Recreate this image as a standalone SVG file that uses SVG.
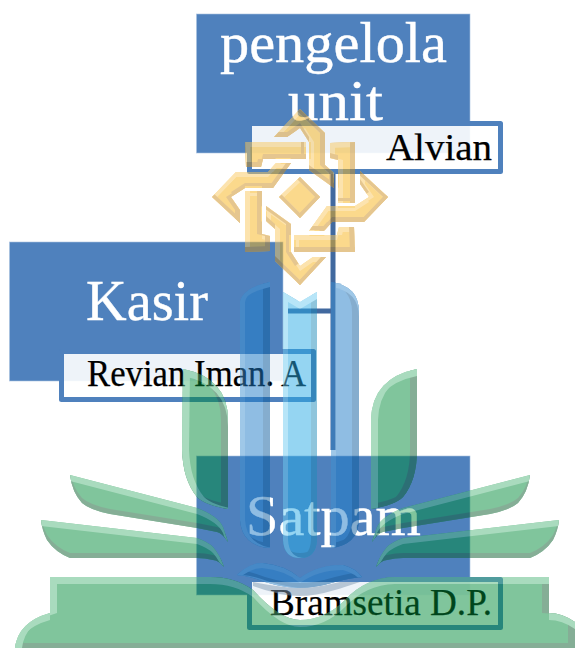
<svg xmlns="http://www.w3.org/2000/svg" xmlns:xlink="http://www.w3.org/1999/xlink" width="575" height="648" viewBox="0 0 575 648">
<style>
.box{fill:#4F81BD;stroke:#A9C1DF;stroke-width:.6}
.sub{fill:#fff;fill-opacity:.9;stroke:#4F81BD;stroke-width:5;stroke-linejoin:round}
.t{font-family:"Liberation Serif",serif;font-size:58px;fill:#fff;stroke:#fff;stroke-width:.4}
.s{font-family:"Liberation Serif",serif;font-size:38.5px;fill:#000;stroke:#000;stroke-width:.25}
.c{fill:none;stroke:#41699F;stroke-width:5}
.g{fill:#008A39;filter:url(#fg)}
.b{fill:#1F7BC7;filter:url(#fb)}
.a{fill:#2BABE5;filter:url(#fa)}
.w{fill:#008A39}
.y{fill:#F7B319}
</style>
<defs>
<filter id="fw" filterUnits="userSpaceOnUse" x="0" y="460" width="575" height="120" color-interpolation-filters="sRGB">
<feOffset in="SourceAlpha" dx="0" dy="6" result="o2"/><feComposite in="SourceAlpha" in2="o2" operator="out" result="r2"/>
<feOffset in="SourceAlpha" dx="0" dy="-5" result="o4"/><feComposite in="SourceAlpha" in2="o4" operator="out" result="r4"/>
<feFlood flood-color="#53B77D"/><feComposite in2="r2" operator="in" result="L"/>
<feFlood flood-color="#0B5D2D"/><feComposite in2="r4" operator="in" result="D"/>
<feMerge><feMergeNode in="SourceGraphic"/><feMergeNode in="D"/><feMergeNode in="L"/></feMerge>
</filter>
<filter id="fg" color-interpolation-filters="sRGB" x="-5%" y="-10%" width="110%" height="120%">
<feOffset in="SourceAlpha" dx="7" dy="0" result="o1"/><feComposite in="SourceAlpha" in2="o1" operator="out" result="r1"/>
<feOffset in="SourceAlpha" dx="0" dy="7" result="o2"/><feComposite in="SourceAlpha" in2="o2" operator="out" result="r2"/>
<feOffset in="SourceAlpha" dx="-7" dy="0" result="o3"/><feComposite in="SourceAlpha" in2="o3" operator="out" result="r3"/>
<feOffset in="SourceAlpha" dx="0" dy="-5" result="o4"/><feComposite in="SourceAlpha" in2="o4" operator="out" result="r4"/>
<feMerge result="rl"><feMergeNode in="r1"/><feMergeNode in="r2"/></feMerge>
<feMerge result="rd"><feMergeNode in="r3"/><feMergeNode in="r4"/></feMerge>
<feFlood flood-color="#53B77D"/><feComposite in2="rl" operator="in" result="L"/>
<feFlood flood-color="#0B5D2D"/><feComposite in2="rd" operator="in" result="D"/>
<feMerge><feMergeNode in="SourceGraphic"/><feMergeNode in="D"/><feMergeNode in="L"/></feMerge>
</filter>
<filter id="fb" color-interpolation-filters="sRGB" x="-10%" y="-5%" width="120%" height="110%">
<feOffset in="SourceAlpha" dx="5" dy="0" result="o1"/><feComposite in="SourceAlpha" in2="o1" operator="out" result="r1"/>
<feOffset in="SourceAlpha" dx="0" dy="5" result="o2"/><feComposite in="SourceAlpha" in2="o2" operator="out" result="r2"/>
<feOffset in="SourceAlpha" dx="-7" dy="0" result="o3"/><feComposite in="SourceAlpha" in2="o3" operator="out" result="r3"/>
<feOffset in="SourceAlpha" dx="0" dy="-5" result="o4"/><feComposite in="SourceAlpha" in2="o4" operator="out" result="r4"/>
<feMerge result="rl"><feMergeNode in="r1"/><feMergeNode in="r2"/></feMerge>
<feMerge result="rd"><feMergeNode in="r3"/><feMergeNode in="r4"/></feMerge>
<feFlood flood-color="#3F90D0"/><feComposite in2="rl" operator="in" result="L"/>
<feFlood flood-color="#0A5A9C"/><feComposite in2="rd" operator="in" result="D"/>
<feMerge><feMergeNode in="SourceGraphic"/><feMergeNode in="D"/><feMergeNode in="L"/></feMerge>
</filter>
<filter id="fa" color-interpolation-filters="sRGB" x="-10%" y="-5%" width="120%" height="110%">
<feOffset in="SourceAlpha" dx="5" dy="0" result="o1"/><feComposite in="SourceAlpha" in2="o1" operator="out" result="r1"/>
<feOffset in="SourceAlpha" dx="0" dy="7" result="o2"/><feComposite in="SourceAlpha" in2="o2" operator="out" result="r2"/>
<feOffset in="SourceAlpha" dx="-6" dy="0" result="o3"/><feComposite in="SourceAlpha" in2="o3" operator="out" result="r3"/>
<feOffset in="SourceAlpha" dx="0" dy="-5" result="o4"/><feComposite in="SourceAlpha" in2="o4" operator="out" result="r4"/>
<feMerge result="rl"><feMergeNode in="r1"/><feMergeNode in="r2"/></feMerge>
<feMerge result="rd"><feMergeNode in="r3"/><feMergeNode in="r4"/></feMerge>
<feFlood flood-color="#6FCBF0"/><feComposite in2="rl" operator="in" result="L"/>
<feFlood flood-color="#1F8BB9"/><feComposite in2="rd" operator="in" result="D"/>
<feMerge><feMergeNode in="SourceGraphic"/><feMergeNode in="D"/><feMergeNode in="L"/></feMerge>
</filter>
<filter id="fy" filterUnits="userSpaceOnUse" x="200" y="100" width="200" height="195" color-interpolation-filters="sRGB">
<feOffset in="SourceAlpha" dx="5" dy="0" result="o1"/><feComposite in="SourceAlpha" in2="o1" operator="out" result="r1"/>
<feOffset in="SourceAlpha" dx="0" dy="5" result="o2"/><feComposite in="SourceAlpha" in2="o2" operator="out" result="r2"/>
<feOffset in="SourceAlpha" dx="-5" dy="0" result="o3"/><feComposite in="SourceAlpha" in2="o3" operator="out" result="r3"/>
<feOffset in="SourceAlpha" dx="0" dy="-5" result="o4"/><feComposite in="SourceAlpha" in2="o4" operator="out" result="r4"/>
<feMerge result="rl"><feMergeNode in="r1"/><feMergeNode in="r2"/></feMerge>
<feMerge result="rd"><feMergeNode in="r3"/><feMergeNode in="r4"/></feMerge>
<feFlood flood-color="#F9C75D"/><feComposite in2="rl" operator="in" result="L"/>
<feFlood flood-color="#CB8D1F"/><feComposite in2="rd" operator="in" result="D"/>
<feMerge><feMergeNode in="SourceGraphic"/><feMergeNode in="L"/><feMergeNode in="D"/></feMerge>
</filter>
<polygon id="p1" points="274,137 300,109 325,133 325,165 334,173 334,188 309,170 309,142 300,128 287,137"/>
<polygon id="p2" points="330,143 355,142 355,203 338,203 338,160 330,158"/>
<g id="wing">
<path d="M70 475L197 508Q218 516 223 527L228 542Q222 533 217 532L197 528L110 514Q90 510 82 503Q72 492 70 475Z"/>
<path d="M41 520L197 538Q208 542 213 547Q220 555 224 567Q218 560 213 560Q205 558 197 558H70Q55 552 47 540Q42 530 41 520Z"/>
</g>
</defs>
<g id="node-pengelola">
<rect class="box" x="196.500" y="14" width="273.500" height="139"/>
<text class="t" x="220" y="62" textLength="227" lengthAdjust="spacingAndGlyphs">pengelola</text>
<text class="t" x="288" y="120" textLength="95" lengthAdjust="spacingAndGlyphs">unit</text>
<rect class="sub" x="249.500" y="123.500" width="251" height="48"/>
<text class="s" x="386" y="160" textLength="106" lengthAdjust="spacingAndGlyphs">Alvian</text>
</g>
<g id="node-kasir">
<rect class="box" x="9.500" y="242" width="273.500" height="139"/>
<text class="t" x="86" y="320" textLength="122" lengthAdjust="spacingAndGlyphs">Kasir</text>
<rect class="sub" x="61.500" y="351.500" width="252" height="48"/>
<text class="s" x="87" y="386" textLength="219" lengthAdjust="spacingAndGlyphs">Revian Iman. A</text>
</g>
<g id="node-satpam">
<rect class="box" x="196.500" y="456" width="273.500" height="139"/>
<text class="t" x="246" y="535" textLength="175" lengthAdjust="spacingAndGlyphs">Satpam</text>
<rect class="sub" x="249.500" y="579.500" width="251" height="48"/>
<text class="s" x="270" y="615" textLength="222" lengthAdjust="spacingAndGlyphs">Bramsetia D.P.</text>
</g>
<g id="connectors">
<path class="c" d="M333 174V450"/>
<path class="c" d="M288 311H331"/>
</g>
<g id="watermark" opacity=".5">
<path class="g" d="M50 577H210Q235 577 253 590Q280 620 300 620Q325 620 345 600Q365 578 395 577H549V613Q562 613 575 622V648H15Q18 622 50 613Z"/>
<g id="wings" class="w" filter="url(#fw)">
<use xlink:href="#wing"/>
<use xlink:href="#wing" transform="matrix(-1 0 0 1 600 0)"/>
</g>
<path class="g" d="M183 369Q228 378 228 420V509Q205 505 197 497Q183 480 182 450Z"/>
<path class="g" d="M417 369Q372 378 371 420V509Q395 505 403 497Q417 480 417 450Z"/>
<path class="b" d="M240 302Q243 288 270 282V548Q242 546 240 520Z"/>
<path class="b" d="M331 282Q359 286 359 312V520Q358 545 331 548Z"/>
<path class="a" d="M283 292L300 302L317 292V540Q316 558 300 558Q284 558 283 540Z"/>
<path class="b" d="M237 575Q250 563 262 563Q285 565 300 578Q318 565 343 565Q355 568 362 577Q350 578 335 582Q315 588 300 588Q285 588 265 582Q250 576 237 575Z"/>
<path d="M253 582Q285 588 300 588Q315 588 340 582L360 582Q345 587 335 590Q315 596 300 596Q280 596 253 586Z" fill="#8199B1"/>
<g id="emblem" class="y" filter="url(#fy)">
<use xlink:href="#p1"/>
<use xlink:href="#p2"/>
<use xlink:href="#p1" transform="rotate(90 300 197)"/>
<use xlink:href="#p2" transform="rotate(90 300 197)"/>
<use xlink:href="#p1" transform="rotate(180 300 197)"/>
<use xlink:href="#p2" transform="rotate(180 300 197)"/>
<use xlink:href="#p1" transform="rotate(270 300 197)"/>
<use xlink:href="#p2" transform="rotate(270 300 197)"/>
<polygon points="300,177 320,197 300,218 279,197"/>
</g>
</g>
</svg>
